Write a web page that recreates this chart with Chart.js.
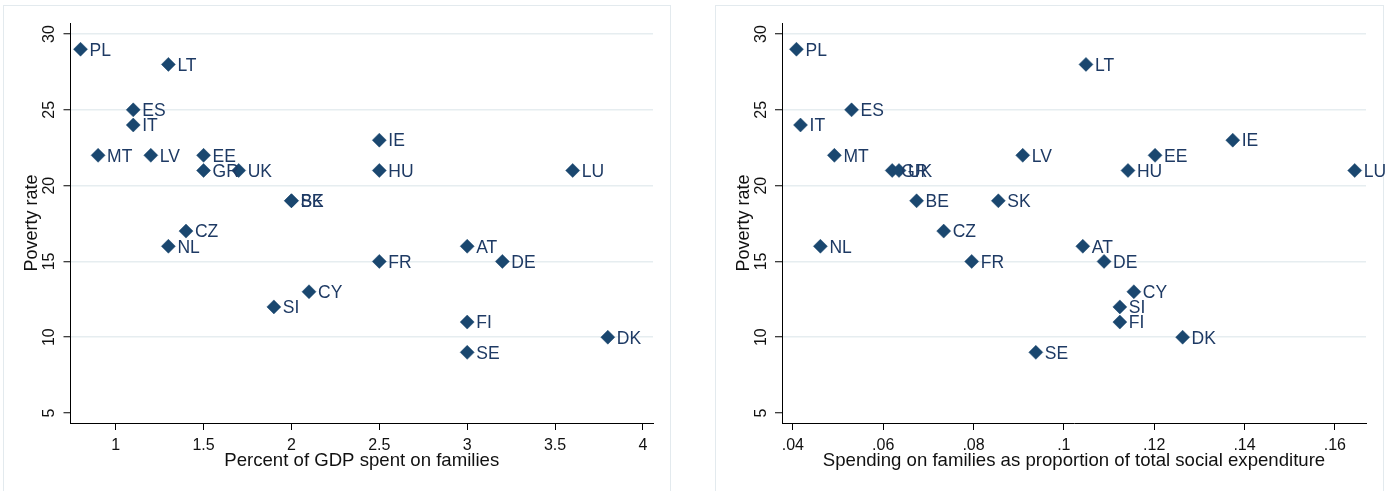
<!DOCTYPE html>
<html lang="en">
<head>
  <meta charset="UTF-8">
  <title>Poverty rate vs family spending</title>
  <script src="https://cdn.jsdelivr.net/npm/chart.js"></script>
  <style>
    body {
      margin: 0;
      background: #fff;
      width: 1398px;
      height: 491px;
      overflow: hidden;
      position: relative;
    }
    .frame {
      position: absolute;
      top: 5px;
      height: 500px;
      border: 1px solid #e3eaee;
      box-sizing: border-box;
    }
    canvas {
      position: absolute;
      top: 5px;
    }
  </style>
</head>
<body>
  <div class="frame" style="left:3px;width:668px"></div>
  <div class="frame" style="left:715px;width:669px"></div>
  <canvas id="gdpChart" width="700" height="484" style="left:3px"></canvas>
  <canvas id="socialChart" width="683" height="484" style="left:715px"></canvas>

  <script>
    // data
    const countries = ['PL','LT','ES','IT','MT','LV','EE','GR','UK','BE','SK','CZ','NL','IE','HU','LU','AT','FR','DE','CY','SI','FI','SE','DK'];
    const povertyRate = [29,28,25,24,22,22,22,21,21,19,19,17,16,23,21,21,16,15,15,13,12,11,9,10];
    const gdpShare = [0.8,1.3,1.1,1.1,0.9,1.2,1.5,1.5,1.7,2.0,2.0,1.4,1.3,2.5,2.5,3.6,3.0,2.5,3.2,2.1,1.9,3.0,3.0,3.8];
    const socialShare = [0.0408,0.1049,0.0530,0.0417,0.0492,0.0909,0.1202,0.0620,0.0635,0.0674,0.0855,0.0734,0.0461,0.1374,0.1142,0.1644,0.1042,0.0796,0.1089,0.1155,0.1124,0.1124,0.0938,0.1263];

    const yTicks = [5, 10, 15, 20, 25, 30];
    const gdpTicks = [1, 1.5, 2, 2.5, 3, 3.5, 4];
    const gdpTickLabels = ['1', '1.5', '2', '2.5', '3', '3.5', '4'];
    const socialTicks = [0.04, 0.06, 0.08, 0.10, 0.12, 0.14, 0.16];
    const socialTickLabels = ['.04', '.06', '.08', '.1', '.12', '.14', '.16'];

    const FONT = "'Liberation Sans', Arial, sans-serif";
    const MARKER = '#1a476f';
    const LABEL = '#1e3a64';
    const GRID = '#e6edf0';

    // country labels next to each marker + rotated y tick labels
    const labelPlugin = {
      id: 'labels',
      afterDatasetsDraw(chart) {
        const ctx = chart.ctx;
        const meta = chart.getDatasetMeta(0);
        ctx.save();
        ctx.font = '17.5px ' + FONT;
        ctx.fillStyle = LABEL;
        ctx.textBaseline = 'middle';
        ctx.textAlign = 'left';
        meta.data.forEach((pt, i) => {
          ctx.fillText(countries[i], pt.x + 9, pt.y + 1.5);
        });
        ctx.restore();
      },
      afterDraw(chart) {
        const ctx = chart.ctx;
        const y = chart.scales.y;
        ctx.save();
        ctx.font = '16px ' + FONT;
        ctx.fillStyle = '#111';
        ctx.textAlign = 'center';
        ctx.textBaseline = 'middle';
        yTicks.forEach(v => {
          ctx.save();
          ctx.translate(47, y.getPixelForValue(v));
          ctx.rotate(-Math.PI / 2);
          ctx.fillText(String(v), 0, 0);
          ctx.restore();
        });
        ctx.restore();
      }
    };

    function makeChart(id, xs, xMin, xMax, xTicks, xLabels, xTitle, yWidth, padRight) {
      return new Chart(document.getElementById(id), {
        type: 'scatter',
        data: {
          datasets: [{
            data: xs.map((x, i) => ({ x: x, y: povertyRate[i] })),
            pointStyle: 'rectRot',
            pointRadius: 7,
            pointHoverRadius: 7,
            backgroundColor: MARKER,
            borderColor: MARKER,
            borderWidth: 0.5
          }]
        },
        options: {
          responsive: false,
          animation: false,
          layout: { padding: { top: 18, right: padRight, left: 0, bottom: 0 } },
          plugins: { legend: { display: false }, tooltip: { enabled: false } },
          scales: {
            x: {
              type: 'linear',
              min: xMin,
              max: xMax,
              afterBuildTicks: s => { s.ticks = xTicks.map(v => ({ value: v })); },
              afterFit: s => { s.height = 66; },
              ticks: {
                autoSkip: false,
                maxRotation: 0,
                padding: 6,
                color: '#111',
                font: { family: FONT, size: 16 },
                callback: (v, i) => xLabels[i]
              },
              grid: { color: 'rgba(0,0,0,0)', drawTicks: true, tickLength: 7, tickColor: '#000', tickWidth: 1 },
              border: { display: true, color: '#000', width: 1 },
              title: {
                display: true,
                text: xTitle,
                color: '#111',
                font: { family: FONT, size: 18.6 },
                padding: { top: 0, bottom: 17 }
              }
            },
            y: {
              type: 'linear',
              min: 4.34,
              max: 30.73,
              afterBuildTicks: s => { s.ticks = yTicks.map(v => ({ value: v })); },
              afterFit: s => { s.width = yWidth; },
              ticks: { display: false },
              grid: {
                color: c => (c.tick && c.tick.value === 5) ? 'rgba(0,0,0,0)' : GRID,
                lineWidth: 1.5,
                drawTicks: true,
                tickLength: 7,
                tickColor: '#000',
                tickWidth: 1
              },
              border: { display: true, color: '#000', width: 1 },
              title: {
                display: true,
                text: 'Poverty rate',
                color: '#111',
                font: { family: FONT, size: 18 },
                padding: { top: 18, bottom: 0 }
              }
            }
          }
        },
        plugins: [labelPlugin]
      });
    }

    makeChart('gdpChart', gdpShare, 0.743, 4.057, gdpTicks, gdpTickLabels,
      'Percent of GDP spent on families', 67.5, 50);
    makeChart('socialChart', socialShare, 0.0376, 0.1669, socialTicks, socialTickLabels,
      'Spending on families as proportion of total social expenditure', 67, 32);
  </script>
</body>
</html>
